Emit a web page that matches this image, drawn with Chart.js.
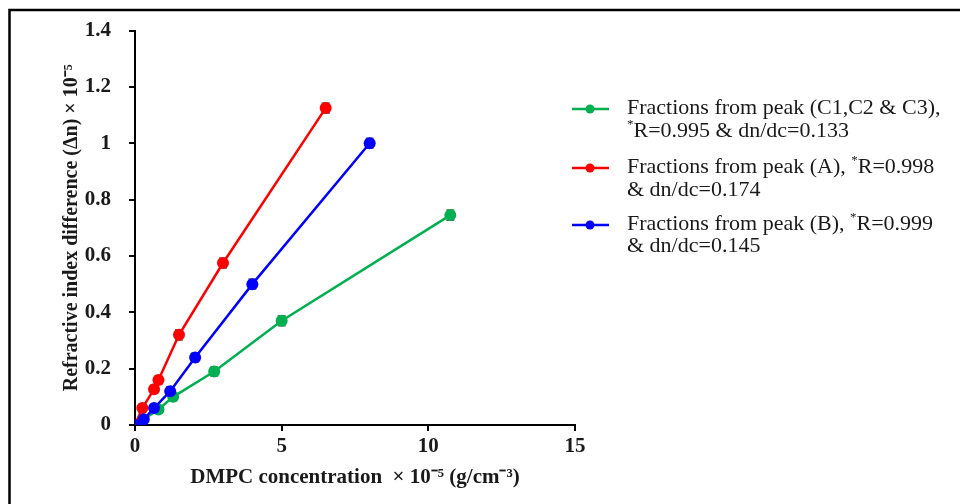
<!DOCTYPE html>
<html>
<head>
<meta charset="utf-8">
<script src="https://cdn.jsdelivr.net/npm/chart.js@4"></script>
<style>
  html, body { margin: 0; padding: 0; background: #fff; }
  canvas { display: block; }
</style>
</head>
<body>
<canvas id="riChart" width="960" height="504"></canvas>
<script>
// values
const greenX = [0, 0.8, 1.3, 2.7, 5, 10.75];
const greenY = [0, 0.055, 0.1, 0.19, 0.37, 0.745];
const greenErr = [0, 0.012, 0.014, 0.016, 0.018, 0.018];

const redX = [0, 0.25, 0.65, 0.8, 1.5, 3, 6.5];
const redY = [0, 0.06, 0.127, 0.16, 0.32, 0.575, 1.125];
const redErr = [0, 0.012, 0.014, 0.014, 0.018, 0.018, 0.018];

const blueX = [0, 0.3, 0.65, 1.2, 2.05, 4, 8];
const blueY = [0, 0.02, 0.06, 0.12, 0.24, 0.5, 1.0];
const blueErr = [0, 0.008, 0.012, 0.016, 0.016, 0.018, 0.018];

const xTicks = [0, 5, 10, 15];
const legendLines = [
    ["Fractions from peak (C1,C2 & C3),", ["", "*", "R=0.995 & dn/dc=0.133"]],
    [["Fractions from peak (A), ", "*", "R=0.998"], "& dn/dc=0.174"],
    [["Fractions from peak (B), ", "*", "R=0.999"], "& dn/dc=0.145"]
];
const seriesColors = ["#00B050", "#FF0000", "#0000FF"];

const toPoints = (xs, ys) => xs.map((x, i) => ({ x: x, y: ys[i] }));

function makeSet(label, xs, ys, errs, color, order) {
    return {
        label: label,
        data: toPoints(xs, ys),
        errors: errs,
        showLine: true,
        borderColor: color,
        backgroundColor: color,
        borderWidth: 2.5,
        pointRadius: 6,
        pointHoverRadius: 6,
        pointBorderWidth: 0,
        order: order
    };
}

// grey error bars, drawn under the markers
const errorBars = {
    id: "errorBars",
    beforeDatasetsDraw(chart) {
        const ctx = chart.ctx;
        const xs = chart.scales.x, ys = chart.scales.y;
        ctx.save();
        ctx.strokeStyle = "#666";
        ctx.lineWidth = 1.5;
        chart.data.datasets.forEach((ds) => {
            ds.data.forEach((p, i) => {
                const e = ds.errors[i];
                if (!e) return;
                const px = xs.getPixelForValue(p.x);
                const top = ys.getPixelForValue(p.y + e);
                const bot = ys.getPixelForValue(p.y - e);
                ctx.beginPath();
                ctx.moveTo(px, top); ctx.lineTo(px, bot);
                ctx.moveTo(px - 4, top); ctx.lineTo(px + 4, top);
                ctx.moveTo(px - 4, bot); ctx.lineTo(px + 4, bot);
                ctx.stroke();
            });
        });
        ctx.restore();
    }
};

// outer frame + legend on the right
const frameAndLegend = {
    id: "frameAndLegend",
    beforeDraw(chart) {
        const ctx = chart.ctx;
        ctx.save();
        ctx.strokeStyle = "#000";
        ctx.lineWidth = 2.5;
        ctx.beginPath();
        ctx.moveTo(9.5, 504);
        ctx.lineTo(9.5, 10);
        ctx.lineTo(960, 10);
        ctx.stroke();
        ctx.restore();
    },
    afterDraw(chart) {
        const ctx = chart.ctx;
        const rowY = [[108, 131], [167, 190], [224, 246]];
        const textX = 627;
        ctx.save();
        ctx.textBaseline = "middle";
        legendLines.forEach((lines, k) => {
            const my = rowY[k][0] + 1;
            ctx.strokeStyle = seriesColors[k];
            ctx.fillStyle = seriesColors[k];
            ctx.lineWidth = 2.5;
            ctx.beginPath();
            ctx.moveTo(572, my); ctx.lineTo(609, my);
            ctx.stroke();
            ctx.beginPath();
            ctx.arc(590, my, 4.5, 0, Math.PI * 2);
            ctx.fill();

            ctx.fillStyle = "#1a1a1a";
            lines.forEach((line, j) => {
                const y = rowY[k][j];
                const parts = Array.isArray(line) ? line : [line];
                let x = textX;
                parts.forEach((part, n) => {
                    const sup = n === 1;
                    ctx.font = sup ? "13px 'Liberation Serif'" : "22px 'Liberation Serif'";
                    ctx.fillText(part, x, sup ? y - 6 : y);
                    x += ctx.measureText(part).width;
                });
            });
        });
        ctx.restore();
    }
};

const ctx = document.getElementById("riChart").getContext("2d");
new Chart(ctx, {
    type: "scatter",
    data: {
        datasets: [
            makeSet("Fractions from peak (C1,C2 & C3)", greenX, greenY, greenErr, seriesColors[0], 3),
            makeSet("Fractions from peak (A)", redX, redY, redErr, seriesColors[1], 2),
            makeSet("Fractions from peak (B)", blueX, blueY, blueErr, seriesColors[2], 1)
        ]
    },
    options: {
        responsive: false,
        animation: false,
        layout: { padding: { left: 55, top: 28, right: 385, bottom: 10 } },
        plugins: {
            legend: { display: false },
            tooltip: { enabled: false }
        },
        scales: {
            x: {
                type: "linear",
                min: 0,
                max: 15,
                afterFit: (s) => { s.height = 69; },
                afterBuildTicks: (s) => { s.ticks = xTicks.map(v => ({ value: v })); },
                ticks: {
                    color: "#1a1a1a",
                    padding: 3,
                    font: { family: "'Liberation Serif'", size: 21, weight: "bold" }
                },
                grid: { drawOnChartArea: false, tickLength: 6, color: "#000", lineWidth: 2 },
                border: { color: "#000", width: 2 },
                title: {
                    display: true,
                    text: "DMPC concentration  \u00d7 10\u207b\u2075 (g/cm\u207b\u00b3)",
                    color: "#1a1a1a",
                    padding: { bottom: 4 },
                    font: { family: "'Liberation Serif'", size: 21, weight: "bold" }
                }
            },
            y: {
                min: 0,
                max: 1.4,
                afterFit: (s) => { s.width = 80; },
                ticks: {
                    stepSize: 0.2,
                    color: "#1a1a1a",
                    padding: 18,
                    font: { family: "'Liberation Serif'", size: 21, weight: "bold" },
                    callback: (v) => String(+v.toFixed(1))
                },
                grid: { drawOnChartArea: false, tickLength: 6, color: "#000", lineWidth: 2 },
                border: { color: "#000", width: 2 },
                title: {
                    display: true,
                    text: "Refractive index difference (\u0394n) \u00d7 10\u207b\u2075",
                    color: "#1a1a1a",
                    padding: { top: 5 },
                    font: { family: "'Liberation Serif'", size: 20, weight: "bold" }
                }
            }
        }
    },
    plugins: [errorBars, frameAndLegend]
});
</script>
</body>
</html>
